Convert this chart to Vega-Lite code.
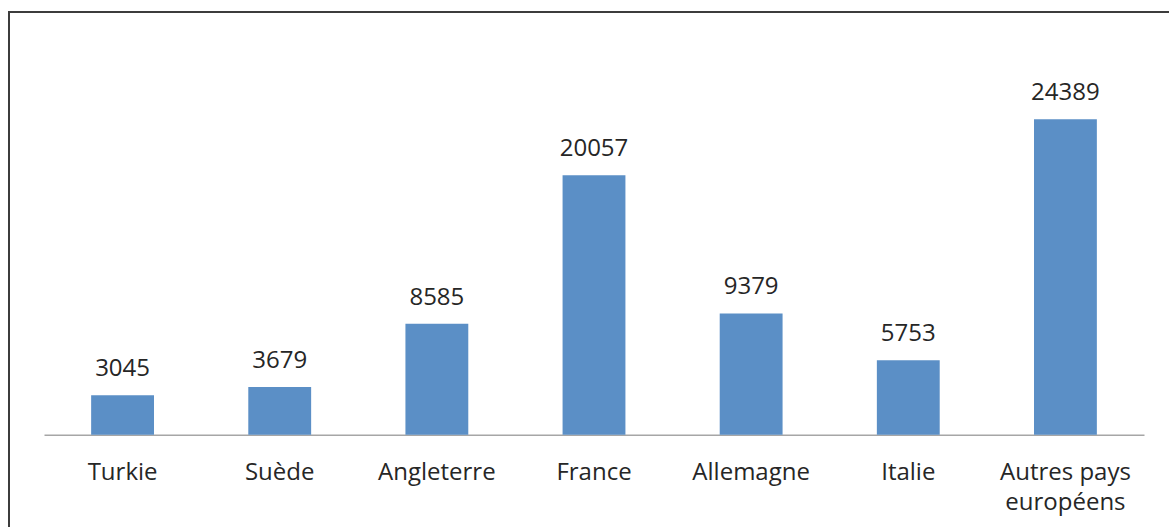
{
  "$schema": "https://vega.github.io/schema/vega-lite/v6.json",
  "autosize": {"type": "none"},
  "width": 1172,
  "height": 531,
  "padding": {"left": 9, "top": 12, "right": -12, "bottom": -16},
  "background": "white",
  "config": {
    "view": {"stroke": "#3c3c3c", "strokeWidth": 2},
    "font": "Open Sans"
  },
  "data": {
    "values": [
      {"pays": "Turkie", "valeur": 3045},
      {"pays": "Suède", "valeur": 3679},
      {"pays": "Angleterre", "valeur": 8585},
      {"pays": "France", "valeur": 20057},
      {"pays": "Allemagne", "valeur": 9379},
      {"pays": "Italie", "valeur": 5753},
      {"pays": "Autres pays européens", "valeur": 24389}
    ]
  },
  "encoding": {
    "x": {
      "field": "pays",
      "type": "nominal",
      "sort": null,
      "scale": {"range": [35, 1135], "paddingInner": 0.6, "paddingOuter": 0.3},
      "axis": {
        "title": null,
        "orient": "bottom",
        "offset": -108.3,
        "ticks": false,
        "grid": false,
        "labelAngle": 0,
        "labelFont": "Open Sans",
        "labelFontSize": 24,
        "labelColor": "#262626",
        "labelBaseline": "alphabetic",
        "labelPadding": 45,
        "labelLineHeight": 30,
        "labelExpr": "datum.value == 'Autres pays européens' ? ['Autres pays', 'européens'] : datum.value",
        "domainColor": "#a6a6a6",
        "domainWidth": 1.5
      }
    },
    "y": {
      "field": "valeur",
      "type": "quantitative",
      "scale": {"domain": [0, 32686], "range": [422.7, 0], "nice": false},
      "axis": null
    }
  },
  "layer": [
    {"mark": {"type": "bar", "color": "#5b8fc6"}},
    {
      "mark": {
        "type": "text",
        "font": "Open Sans",
        "fontSize": 24,
        "color": "#262626",
        "baseline": "alphabetic",
        "dy": -19
      },
      "encoding": {"text": {"field": "valeur", "type": "quantitative", "format": "d"}}
    }
  ]
}
